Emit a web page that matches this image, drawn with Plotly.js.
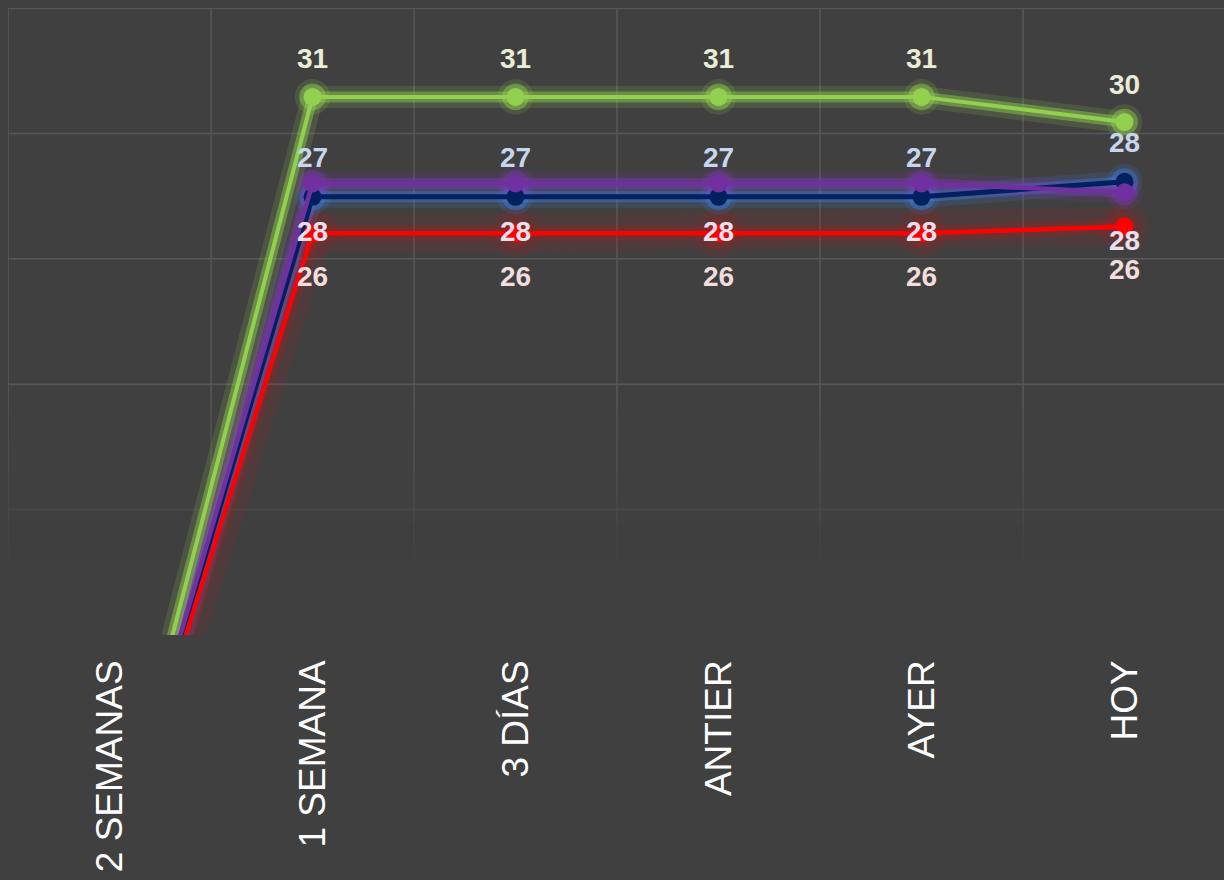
<!DOCTYPE html>
<html>
<head>
<meta charset="utf-8">
<script src="https://cdn.plot.ly/plotly-3.0.1.min.js"></script>
<style>
  html, body { margin: 0; padding: 0; background: #404040; }
  #chart { width: 1224px; height: 880px; }
</style>
</head>
<body>
<div id="chart"></div>
<script>
// ---- data ----
const categories = ['2 SEMANAS', '1 SEMANA', '3 DÍAS', 'ANTIER', 'AYER', 'HOY'];

// line positions
const verde  = [0, 31, 31, 31, 31, 30];
const azul   = [0, 27.03, 27.03, 27.03, 27.03, 27.63];
const morado = [0, 27.56, 27.56, 27.56, 27.56, 27.21];
const rojo   = [0, 25.58, 25.58, 25.58, 25.58, 25.85];

// data labels shown on the chart
const etiquetasVerde  = [null, 31, 31, 31, 31, 30];
const etiquetasAzul   = [null, 27, 27, 27, 27, 28];
const etiquetasMorado = [null, 28, 28, 28, 28, 28];
const etiquetasRojo   = [null, 26, 26, 26, 26, 26];

// ---- styles ----
const series = [
  { name: 'Azul',   y: azul,   color: '#002060', width: 5,   glow: 'rgba(60,125,225,', glowW: [22, 11], glowA: [0.16, 0.42],
    labels: etiquetasAzul,   labelColor: '#c6d6ee', shift: 39 },
  { name: 'Rojo',   y: rojo,   color: '#ff0000', width: 4.5, glow: 'rgba(255,0,0,',    glowW: [38, 16], glowA: [0.08, 0.14],
    labels: etiquetasRojo,   labelColor: '#f2dcdc', shift: -43 },
  { name: 'Morado', y: morado, color: '#7030a0', width: 4.5, glow: 'rgba(125,55,175,', glowW: [22, 11], glowA: [0.16, 0.42],
    labels: etiquetasMorado, labelColor: '#e6e0ef', shift: -48 },
  { name: 'Verde',  y: verde,  color: '#92d050', width: 4,   glow: 'rgba(146,208,80,', glowW: [22, 11], glowA: [0.16, 0.45],
    labels: etiquetasVerde,  labelColor: '#ebecd6', shift: 38 }
];

const traces = [];
// glow layers first
series.forEach(s => {
  for (let k = 0; k < 2; k++) {
    traces.push({
      x: categories, y: s.y, type: 'scatter', mode: 'lines+markers',
      line: { color: s.glow + s.glowA[k] + ')', width: s.glowW[k] },
      marker: { color: s.glow + s.glowA[k] + ')', size: 18 + s.glowW[k] * 0.8 },
      hoverinfo: 'skip', showlegend: false
    });
  }
});
// main lines
series.forEach(s => {
  traces.push({
    x: categories, y: s.y, type: 'scatter', mode: 'lines+markers', name: s.name,
    line: { color: s.color, width: s.width },
    marker: { color: s.color, size: 18 },
    showlegend: false
  });
});

// data labels
const annotations = [];
series.forEach(s => {
  categories.forEach((c, i) => {
    if (s.labels[i] === null) return;
    annotations.push({
      x: c, y: s.y[i], xref: 'x', yref: 'y',
      text: String(s.labels[i]), showarrow: false,
      yshift: s.shift,
      font: { family: 'Liberation Sans, Arial, sans-serif', size: 28, color: s.labelColor, weight: 'bold' }
    });
  });
});

// grid (drawn as shapes so that it can fade towards the bottom)
const yMin = 9.63, yMax = 34.53, gridStep = 4.976, gridStart = 9.64;
const gridColor = '#585858';
const shapes = [];
categories.forEach((c, i) => {
  shapes.push({ type: 'line', xref: 'x', yref: 'paper', x0: i - 0.5, x1: i - 0.5, y0: 0, y1: 1,
    line: { color: gridColor, width: 1.5 }, layer: 'below' });
});
for (let k = 0; k <= 5; k++) {
  const v = gridStart + k * gridStep;
  shapes.push({ type: 'line', xref: 'paper', yref: 'y', x0: 0, x1: 1, y0: v, y1: v,
    line: { color: gridColor, width: 1.5 }, layer: 'below' });
}
const fades = [[0.36, 0.15], [0.31, 0.15], [0.26, 0.2], [0.22, 0.25], [0.18, 0.35], [0.15, 0.5], [0.12, 1]];
fades.forEach(f => shapes.push({
  type: 'rect', xref: 'paper', yref: 'paper', x0: 0, x1: 1, y0: 0, y1: f[0],
  fillcolor: '#404040', opacity: f[1], line: { width: 0 }, layer: 'below'
}));

const layout = {
  width: 1224, height: 880,
  paper_bgcolor: '#404040', plot_bgcolor: '#404040',
  margin: { l: 8, r: 0, t: 8, b: 245 },
  showlegend: false,
  xaxis: {
    type: 'category', range: [-0.5, 5.49],
    showgrid: false,
    ticks: '', tickangle: -90, ticklabelstandoff: 17,
    tickfont: { family: 'Liberation Sans, Arial, sans-serif', size: 37, color: '#ffffff' },
    zeroline: false, showline: false, fixedrange: true
  },
  yaxis: {
    range: [yMin, yMax],
    showgrid: false,
    showticklabels: false, ticks: '', zeroline: false, showline: false, fixedrange: true
  },
  annotations: annotations,
  shapes: shapes
};

Plotly.newPlot('chart', traces, layout, { displayModeBar: false, staticPlot: true });
</script>
</body>
</html>
